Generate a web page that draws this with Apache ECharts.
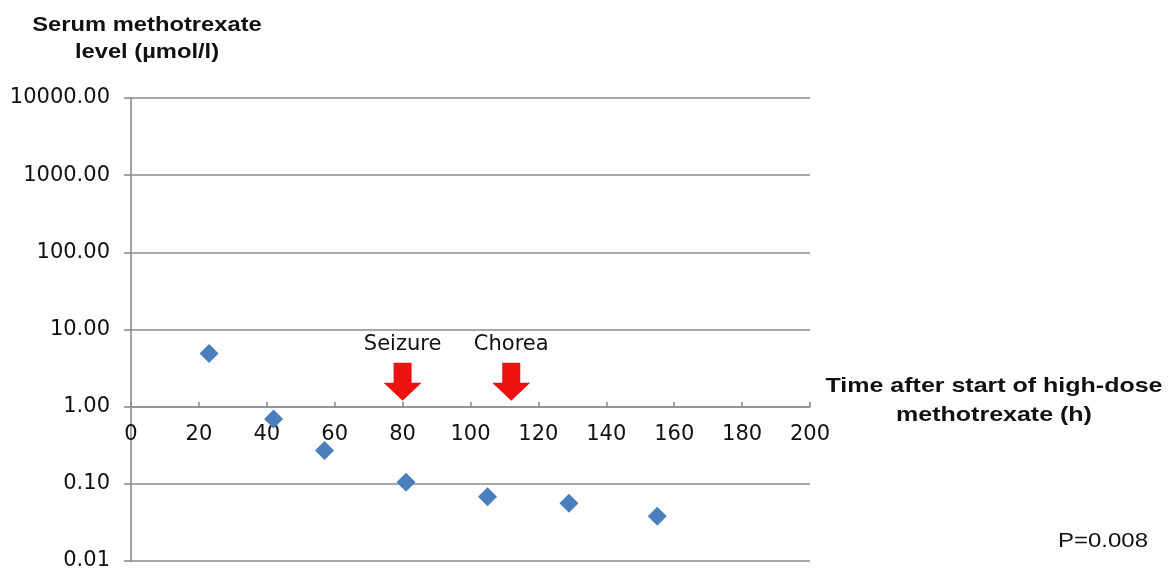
<!DOCTYPE html>
<html>
<head>
<meta charset="utf-8">
<script src="https://cdn.jsdelivr.net/npm/echarts@6/dist/echarts.min.js"></script>
<style>
html,body{margin:0;padding:0;background:#fff;}
#chart{width:1171px;height:572px;}
</style>
</head>
<body>
<div id="chart"></div>
<script>
// Data
const hours = [23, 42, 57, 81, 105, 129, 155];
const mtxLevels = [4.9, 0.69, 0.27, 0.105, 0.068, 0.056, 0.038];
const eventNames = ['Seizure', 'Chorea'];
const eventHours = [80, 112];
const eventLevels = [2.1, 2.1];
const yTicks = [0.01, 0.1, 1, 10, 100, 1000, 10000];
const xTicks = [0, 20, 40, 60, 80, 100, 120, 140, 160, 180, 200];
const xCrossLevel = 1;
const yAxisTitle = 'Serum methotrexate\nlevel (\u00b5mol/l)';
const xAxisTitle = 'Time after start of high-dose\nmethotrexate (h)';
const pText = 'P=0.008';

const FONT = '"Liberation Sans", Arial, sans-serif';
const TICK_FONT = '"DejaVu Sans", "Liberation Sans", sans-serif';
const GRID_COLOR = '#8c8c8c';
const TEXT_COLOR = '#111111';
const arrowPath = 'path://M10,0 L28,0 L28,20 L38,20 L19,38 L0,20 L10,20 Z';

const W = 1171, H = 572;
const GRID = {left: 131, right: 361, top: 98, bottom: 11};
const gridH = H - GRID.top - GRID.bottom;
const lg = Math.log10;
const yMin = yTicks[0], yMax = yTicks[yTicks.length - 1];
const xAxisOffset = -gridH * (lg(xCrossLevel) - lg(yMin)) / (lg(yMax) - lg(yMin));

const chart = echarts.init(document.getElementById('chart'), null, {renderer: 'canvas'});

const option = {
  animation: false,
  backgroundColor: '#ffffff',
  grid: Object.assign({containLabel: false}, GRID),
  xAxis: {
    type: 'value',
    min: xTicks[0],
    max: xTicks[xTicks.length - 1],
    interval: 20,
    offset: xAxisOffset,
    axisLine: {show: true, onZero: false, lineStyle: {color: GRID_COLOR, width: 1.6}},
    axisTick: {show: true, inside: true, length: 5, lineStyle: {color: GRID_COLOR, width: 1.6}},
    axisLabel: {show: true, color: TEXT_COLOR, fontFamily: TICK_FONT, fontSize: 21, margin: 17},
    splitLine: {show: false}
  },
  yAxis: {
    type: 'log',
    logBase: 10,
    min: yMin,
    max: yMax,
    axisLine: {show: true, lineStyle: {color: GRID_COLOR, width: 1.6}},
    axisTick: {show: true, inside: false, length: 7, lineStyle: {color: GRID_COLOR, width: 1.6}},
    axisLabel: {
      show: true, color: TEXT_COLOR, fontFamily: TICK_FONT, fontSize: 21, margin: 21,
      formatter: function (v) { return Number(v).toFixed(2); }
    },
    splitLine: {show: true, lineStyle: {color: GRID_COLOR, width: 1.6}},
    minorTick: {show: false},
    minorSplitLine: {show: false}
  },
  graphic: [
    {
      type: 'text', x: 147, y: 38.5, scaleX: 1.13,
      style: {
        text: yAxisTitle, fontFamily: FONT, fontSize: 21, fontWeight: 'bold',
        fill: TEXT_COLOR, textAlign: 'center', textVerticalAlign: 'middle', lineHeight: 27
      }
    },
    {
      type: 'text', x: 994, y: 400.5, scaleX: 1.19,
      style: {
        text: xAxisTitle, fontFamily: FONT, fontSize: 21, fontWeight: 'bold',
        fill: TEXT_COLOR, textAlign: 'center', textVerticalAlign: 'middle', lineHeight: 29
      }
    },
    {
      type: 'text', x: 1103, y: 541, scaleX: 1.2,
      style: {
        text: pText, fontFamily: FONT, fontSize: 20,
        fill: TEXT_COLOR, textAlign: 'center', textVerticalAlign: 'middle'
      }
    }
  ],
  series: [
    {
      type: 'scatter',
      name: 'Methotrexate',
      symbol: 'diamond',
      symbolSize: [19, 19],
      itemStyle: {color: '#4a7ebd', opacity: 1},
      data: hours.map((h, i) => [h, mtxLevels[i]]),
      z: 3
    },
    {
      type: 'scatter',
      name: 'Events',
      symbol: arrowPath,
      symbolSize: [38, 38],
      itemStyle: {color: '#ee1111', opacity: 1},
      label: {
        show: true, position: 'top', distance: 8,
        fontFamily: TICK_FONT, fontSize: 21, color: TEXT_COLOR,
        formatter: function (p) { return eventNames[p.dataIndex]; }
      },
      data: eventHours.map((h, i) => [h, eventLevels[i]]),
      z: 4
    }
  ]
};

chart.setOption(option);
</script>
</body>
</html>
